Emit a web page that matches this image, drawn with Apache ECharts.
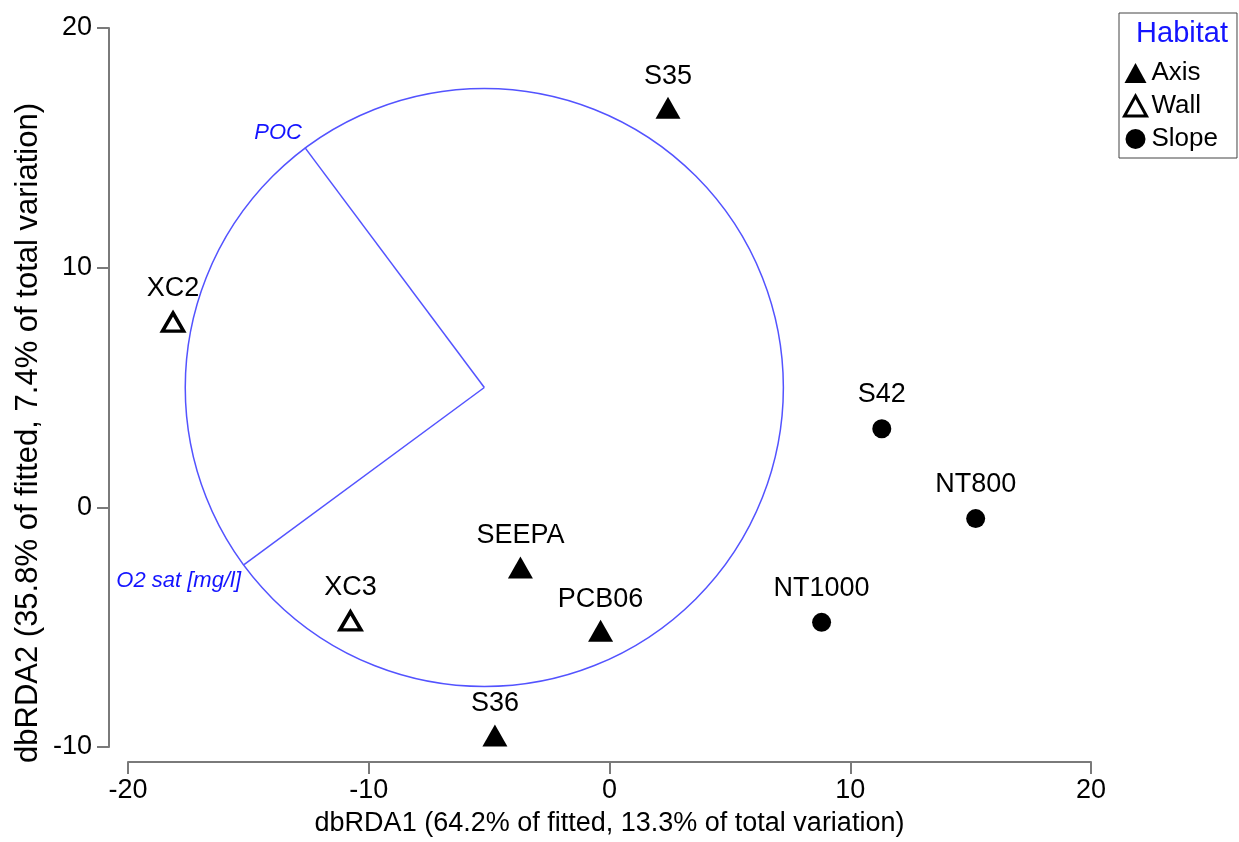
<!DOCTYPE html>
<html>
<head>
<meta charset="utf-8">
<script src="https://cdn.jsdelivr.net/npm/echarts@6/dist/echarts.min.js"></script>
<style>html,body{margin:0;padding:0;background:#fff}#c{width:1239px;height:842px}</style>
</head>
<body>
<div id="c"></div>
<script>
// ---- data ----
const axisSites = [['S35', 2.43, 16.67], ['SEEPA', -3.70, -2.51], ['PCB06', -0.37, -5.15], ['S36', -4.76, -9.52]];
const wallSites = [['XC2', -18.13, 7.73], ['XC3', -10.76, -4.74]];
const slopeSites = [['S42', 11.31, 3.28], ['NT800', 15.21, -0.47], ['NT1000', 8.81, -4.80]];
const vectorNames = ['POC', 'O2 sat [mg/l]'];
const vectorEndX = [-12.65, -15.18];
const vectorEndY = [15.01, -2.39];
const circleCenter = [-5.2, 5.0];
const circleRadius = 12.45;
const xTicks = [-20, -10, 0, 10, 20];
const yTicks = [-10, 0, 10, 20];
const xName = 'dbRDA1 (64.2% of fitted, 13.3% of total variation)';
const yName = 'dbRDA2 (35.8% of fitted, 7.4% of total variation)';
const legendTitle = 'Habitat';
const legendItems = ['Axis', 'Wall', 'Slope'];

const FONT = "'Liberation Sans', Arial, sans-serif";
const BLUE_LINE = '#5353ff';
const BLUE_TEXT = '#1414ff';

function toPoints(arr) { return arr.map(d => ({ name: d[0], value: [d[1], d[2]] })); }

const vectorData = vectorNames.map((n, i) => ({ name: n, value: [vectorEndX[i], vectorEndY[i]] }));

const chart = echarts.init(document.getElementById('c'), null, { renderer: 'canvas' });
const labelCommon = { show: true, position: 'top', formatter: '{b}', color: '#000', fontFamily: FONT, fontSize: 27 };

chart.setOption({
  animation: false,
  backgroundColor: '#fff',
  textStyle: { fontFamily: FONT },
  grid: { left: 128, right: 148, top: 28, bottom: 93, containLabel: false },
  xAxis: {
    type: 'value', min: xTicks[0], max: xTicks[xTicks.length - 1], interval: 10,
    offset: 15,
    axisLine: { show: true, onZero: false, lineStyle: { color: '#7a7a7a', width: 2 } },
    axisTick: { show: true, length: 12, lineStyle: { color: '#7a7a7a', width: 2 } },
    axisLabel: { margin: 15, color: '#000', fontSize: 27, fontFamily: FONT },
    splitLine: { show: false },
    name: xName, nameLocation: 'middle', nameGap: 48,
    nameTextStyle: { color: '#000', fontSize: 27, fontFamily: FONT }
  },
  yAxis: {
    type: 'value', min: yTicks[0], max: yTicks[yTicks.length - 1], interval: 10,
    offset: 19,
    axisLine: { show: true, onZero: false, lineStyle: { color: '#7a7a7a', width: 2 } },
    axisTick: { show: true, length: 12, lineStyle: { color: '#7a7a7a', width: 2 } },
    axisLabel: { margin: 17, color: '#000', fontSize: 27, fontFamily: FONT },
    splitLine: { show: false }
  },
  legend: {
    orient: 'vertical', left: 1119, top: 13,
    padding: [47, 19, 6, 4],
    borderColor: '#444', borderWidth: 1,
    itemGap: 7, itemWidth: 22, itemHeight: 20,
    textStyle: { color: '#000', fontSize: 26, fontFamily: FONT },
    data: [
      { name: legendItems[0] },
      { name: legendItems[1], itemStyle: { color: '#fff', borderColor: '#000', borderWidth: 3 } },
      { name: legendItems[2] }
    ]
  },
  graphic: [
    { type: 'text', x: 1182, y: 34, z: 100, style: { text: legendTitle, align: 'center', verticalAlign: 'middle', fill: BLUE_TEXT, fontSize: 29, fontFamily: FONT } },
    { type: 'text', x: 28, y: 433, rotation: Math.PI / 2, style: { text: yName, align: 'center', verticalAlign: 'middle', fill: '#000', fontSize: 31, fontFamily: FONT } }
  ],
  series: [
    {
      type: 'custom', name: 'circle', coordinateSystem: 'cartesian2d', silent: true, z: 1,
      data: [[circleCenter[0], circleCenter[1], circleRadius]],
      renderItem: function (params, api) {
        const c = api.coord([api.value(0), api.value(1)]);
        const s = api.size([api.value(2), api.value(2)]);
        const r = (s[0] + s[1]) / 2;
        return { type: 'circle', shape: { cx: c[0], cy: c[1], r: r }, style: { fill: 'none', stroke: BLUE_LINE, lineWidth: 1.5 } };
      }
    },
    {
      type: 'custom', name: 'vectors', coordinateSystem: 'cartesian2d', silent: true, z: 1,
      data: vectorData,
      renderItem: function (params, api) {
        const c = api.coord(circleCenter);
        const e = api.coord([api.value(0), api.value(1)]);
        const above = e[1] < c[1];
        return {
          type: 'group', children: [
            { type: 'line', shape: { x1: c[0], y1: c[1], x2: e[0], y2: e[1] }, style: { stroke: BLUE_LINE, lineWidth: 1.5 } },
            { type: 'text', style: {
                text: vectorData[params.dataIndex].name,
                x: e[0] - 3, y: above ? e[1] - 4 : e[1] + 5,
                align: 'right', verticalAlign: above ? 'bottom' : 'top',
                fill: BLUE_TEXT, fontSize: 22, fontStyle: 'italic', fontFamily: FONT } }
          ]
        };
      }
    },
    {
      type: 'scatter', name: 'Axis', symbol: 'triangle', symbolSize: [25, 22], z: 3,
      itemStyle: { color: '#000', opacity: 1 },
      label: Object.assign({}, labelCommon, { distance: 7 }),
      data: toPoints(axisSites)
    },
    {
      type: 'scatter', name: 'Wall', symbol: 'triangle', symbolSize: [21, 18], z: 3,
      itemStyle: { color: '#fff', borderColor: '#000', borderWidth: 3.5, opacity: 1 },
      label: Object.assign({}, labelCommon, { distance: 9 }),
      data: toPoints(wallSites)
    },
    {
      type: 'scatter', name: 'Slope', symbol: 'circle', symbolSize: 19, z: 3,
      itemStyle: { color: '#000', opacity: 1 },
      label: Object.assign({}, labelCommon, { distance: 11 }),
      data: toPoints(slopeSites)
    }
  ]
});
</script>
</body>
</html>
